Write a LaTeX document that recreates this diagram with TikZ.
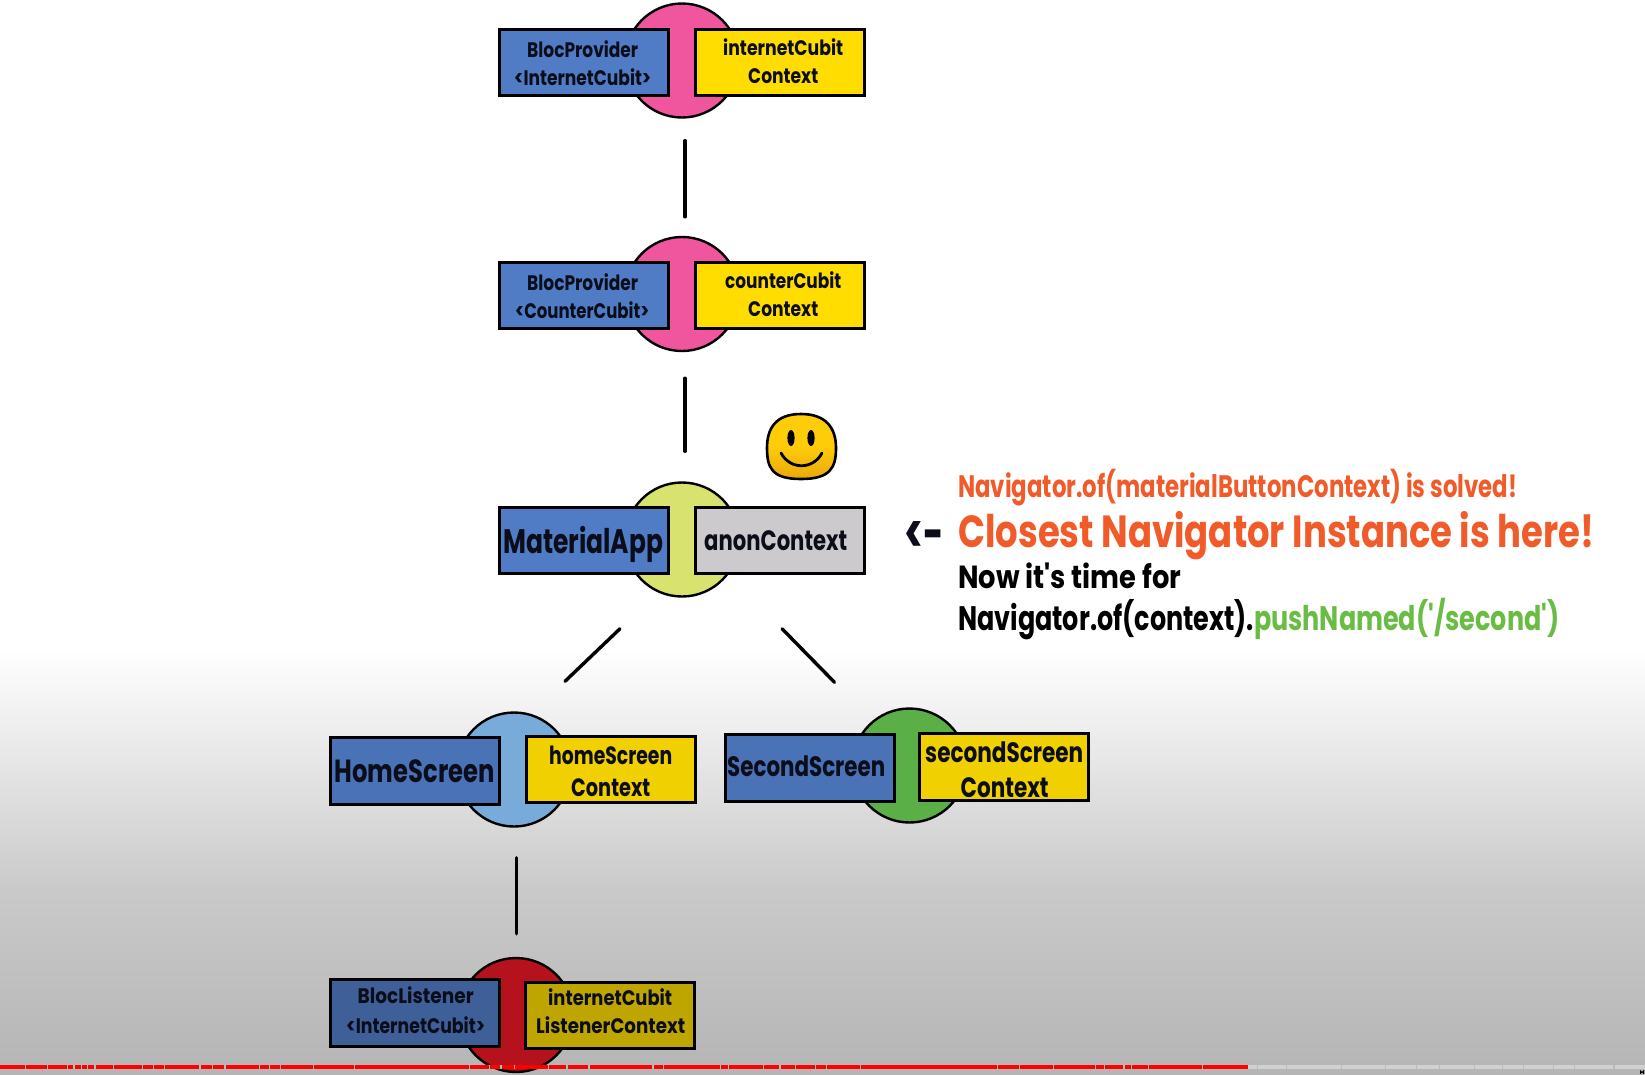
\documentclass[tikz,border=0pt]{standalone}
\usepackage{fontspec}
\usepackage{graphicx}
\setmainfont{Poppins}[Ligatures=TeXOff]
\newcommand\tx[3]{\resizebox*{#1pt}{\totalheight}{\fontsize{#2}{#2}\selectfont\bfseries #3}}
\definecolor{ink}{HTML}{0B0D1A}
\definecolor{pinkc}{HTML}{F0569D}
\definecolor{limec}{HTML}{D8E26F}
\definecolor{skyc}{HTML}{78ABD9}
\definecolor{greenc}{HTML}{5AB046}
\definecolor{redc}{HTML}{B5121D}
\definecolor{blueA}{HTML}{4F7CC4}
\definecolor{blueB}{HTML}{4A72B6}
\definecolor{blueC}{HTML}{3F5F99}
\definecolor{yelA}{HTML}{FFDD00}
\definecolor{yelB}{HTML}{F0D000}
\definecolor{yelC}{HTML}{BFA500}
\definecolor{greyc}{HTML}{CCCACC}
\definecolor{orangec}{HTML}{F15A29}
\definecolor{pushc}{HTML}{69BD45}
\definecolor{smA}{HTML}{FFCC0A}
\definecolor{smB}{HTML}{E8A80A}
\tikzset{
  disc/.style={circle,draw=black,line width=2.4pt,minimum size=114pt,inner sep=0},
  boxn/.style={rectangle,draw=black,line width=2.8pt,inner sep=0},
  lbl/.style={anchor=base west,inner sep=0,text=ink},
  wire/.style={draw=black,line width=3.4pt,line cap=round}
}
\newcommand\bx[6]{\node[boxn,fill=#6,minimum width={#4-#2-3},minimum height={#5-#3-3}] (#1) at ({(#2+#4)/2},{(#3+#5)/2}) {};}
\begin{document}
\begin{tikzpicture}[x=1pt,y=-1pt]
\useasboundingbox (0,0) rectangle (1645,1074);
% background
\fill[white] (0,0) rectangle (1645,651);
\shade[top color=white,bottom color=white!79!black] (0,650) rectangle (1645,890);
\shade[top color=white!79!black,bottom color=white!71!black] (0,889.5) rectangle (1645,1074);

% discs
\node[disc,fill=pinkc] (c1) at (682,60.5) {};
\node[disc,fill=pinkc] (c2) at (682,294) {};
\node[disc,fill=limec] (c3) at (682,539.5) {};
\node[disc,fill=skyc] (c4) at (514,769.5) {};
\node[disc,fill=greenc] (c5) at (909.5,765.5) {};
\node[disc,fill=redc] (c6) at (516,1015) {};

% connectors
\draw[wire] ([shift={(3,22)}]c1.south) -- ([shift={(3,-19)}]c2.north);
\draw[wire] ([shift={(3,26)}]c2.south) -- ([shift={(3,-30)}]c3.north);
\draw[wire] ([shift={(-62,31)}]c3.south) -- ([shift={(51,-30)}]c4.north);
\draw[wire] ([shift={(100,31)}]c3.south) -- ([shift={(-75,-25)}]c5.north);
\draw[wire] ([shift={(2.6,30)}]c4.south) -- ([shift={(0.6,-23)}]c6.north);

% boxes
\bx{b1}{498}{28}{670}{97}{blueA}
\bx{y1}{694}{28}{866}{97}{yelA}
\bx{b2}{498}{261}{670}{330}{blueA}
\bx{y2}{694}{261}{866}{330}{yelA}
\bx{b3}{498}{506}{670}{575}{blueA}
\bx{y3}{694}{506}{866}{575}{greyc}
\bx{b4}{329}{736}{501}{806}{blueB}
\bx{y4}{525}{735}{697}{804}{yelB}
\bx{b5}{724}{733}{896}{803}{blueB}
\bx{y5}{918}{732}{1090}{802}{yelB}
\bx{b6}{329}{978}{501}{1048}{blueC}
\bx{y6}{524}{981}{696}{1050}{yelC}

% box labels
\node[lbl] (t1a) at (527,57) {\tx{111}{21}{BlocProvider}};
\node[lbl] (t1b) at (514,85) {\tx{137}{21}{<InternetCubit>}};
\node[lbl] (t1c) at (723,55) {\tx{120}{21}{internetCubit}};
\node[lbl] (t1d) at (748,83) {\tx{70}{21}{Context}};
\node[lbl] (t2a) at (527,290) {\tx{111}{21}{BlocProvider}};
\node[lbl] (t2b) at (515,318) {\tx{134}{21}{<CounterCubit>}};
\node[lbl] (t2c) at (725,288) {\tx{116}{21}{counterCubit}};
\node[lbl] (t2d) at (748,316) {\tx{70}{21}{Context}};
\node[lbl] (t3a) at (503,553) {\tx{160}{34}{MaterialApp}};
\node[lbl] (t3b) at (704,550) {\tx{143}{28}{anonContext}};
\node[lbl] (t4a) at (334.5,782) {\tx{160}{32}{HomeScreen}};
\node[lbl] (t4b) at (549,764) {\tx{123}{25}{homeScreen}};
\node[lbl] (t4c) at (571,796) {\tx{79}{25}{Context}};
\node[lbl] (t5a) at (727,776) {\tx{158}{28}{SecondScreen}};
\node[lbl] (t5b) at (925,762) {\tx{158}{28}{secondScreen}};
\node[lbl] (t5c) at (960.5,797) {\tx{88}{28}{Context}};
\node[lbl] (t6a) at (357.5,1003) {\tx{116}{21}{BlocListener}};
\node[lbl] (t6b) at (346,1033) {\tx{139}{21}{<InternetCubit>}};
\node[lbl] (t6c) at (548,1005) {\tx{124}{21}{internetCubit}};
\node[lbl] (t6d) at (536,1033) {\tx{149}{21}{ListenerContext}};

% smiley
\path[draw=black,line width=2.6pt,top color=smA,bottom color=smB,middle color=smA]
  (801,414) .. controls (826,414) and (836,428) .. (836,448)
  .. controls (836,468) and (830,479) .. (801,479)
  .. controls (772,479) and (767,468) .. (767,448)
  .. controls (767,428) and (776,414) .. (801,414) -- cycle;
\fill[black] (791,438) ellipse [x radius=3.6,y radius=8];
\fill[black] (811,438) ellipse [x radius=3.6,y radius=8];
\draw[black,line width=2.8pt,line cap=round] (781,453) .. controls (790,470) and (813,470) .. (822,453);

% right-hand text
\node[lbl,text=orangec] (m1) at (958,497) {\tx{559}{31}{Navigator.of(materialButtonContext) is solved!}};
\node[lbl] (arr) at (904,553) {\tx{40}{56}{<-}};
\node[lbl,text=orangec] (m2) at (958,547) {\tx{636}{45}{Closest Navigator Instance is here!}};
\node[lbl,text=black] (m3) at (958,588) {\tx{223}{32}{Now it's time for}};
\node[lbl,text=black] (m4) at (958,630) {\tx{601}{34}{Navigator.of(context).\textcolor{pushc}{pushNamed('/second')}}};

% progress bar
\fill[red] (0,1064.5) rectangle (1248,1068.5);
\fill[white!82!black] (1248,1064.5) rectangle (1645,1068.5);
\foreach \g in {24,45,64,70,77,83,90,108,135,146,156,190,202,214,247,256,267,298,337,447,466,477,490,522,540,561,622,632,686,694,727,743,758,777,787,820,950,971,1004,1044,1052,1071,1078,1094,1146,1198,1226,1278,1320,1350,1372,1405,1432,1452,1480,1500,1538}
  \fill[white!73!black] ({\g*1.049},1064.5) rectangle ({\g*1.049+1.2},1068.5);
\draw[black,line width=1pt] (1640.5,1074) -- (1640.5,1071) arc (180:0:1.5) -- (1643.5,1074);
\end{tikzpicture}
\end{document}
